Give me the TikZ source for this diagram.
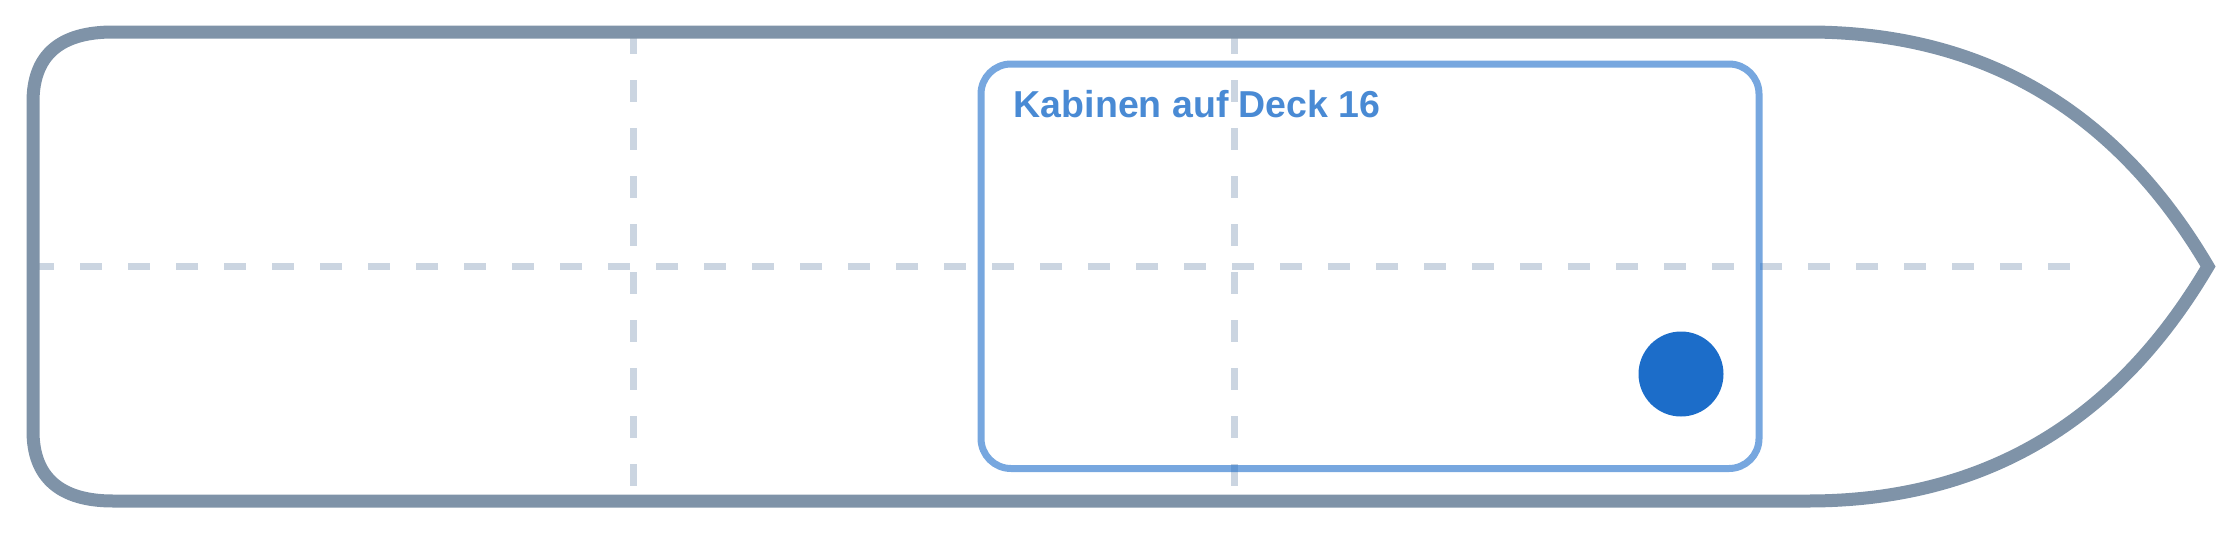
\documentclass[tikz,border=0pt]{standalone}
\usepackage{fontspec}
\setmainfont{Liberation Sans}
\definecolor{hullc}{RGB}{127,147,168}
\definecolor{dashc}{RGB}{203,213,225}
\definecolor{bluec}{RGB}{28,109,201}
\tikzset{
  hull/.style={draw=hullc,line width=13pt,line join=miter},
  gridline/.style={draw=dashc,line width=7pt,dash pattern=on 21.5pt off 26.5pt},
  deckbox/.style={draw=bluec,draw opacity=0.6,line width=7pt,rounded corners=30pt},
  cabin/.style={circle,fill=bluec,minimum size=85pt,inner sep=0pt},
  decklabel/.style={text=bluec,text opacity=0.8,inner sep=0pt,anchor=base west,font=\bfseries\fontsize{37.5}{45}\selectfont}
}
\begin{document}
\begin{tikzpicture}[x=1pt,y=-1pt]
\useasboundingbox (0,0) rectangle (2240,533);
% grid lines
\draw[gridline] (32,266.5) -- (2070,266.5);
\draw[gridline] (633,32) -- (633,501);
\draw[gridline] (1234,32) -- (1234,501);
% hull
\draw[hull] (113,32) -- (1808,32)
  .. controls (1983,32) and (2116,110.2) .. (2208,266.5)
  .. controls (2116,422.8) and (1983,501) .. (1808,501)
  -- (113,501)
  .. controls (59.7,501) and (33,477) .. (33,431)
  -- (33,102)
  .. controls (33,55.3) and (59.7,32) .. (113,32) -- cycle;
% deck box
\draw[deckbox] (981,64) rectangle (1759,468.5);
\node[decklabel] (label) at (1013.7,117) {Kabinen auf Deck 16};
\node[cabin] (dot) at (1681,374) {};
\end{tikzpicture}
\end{document}
